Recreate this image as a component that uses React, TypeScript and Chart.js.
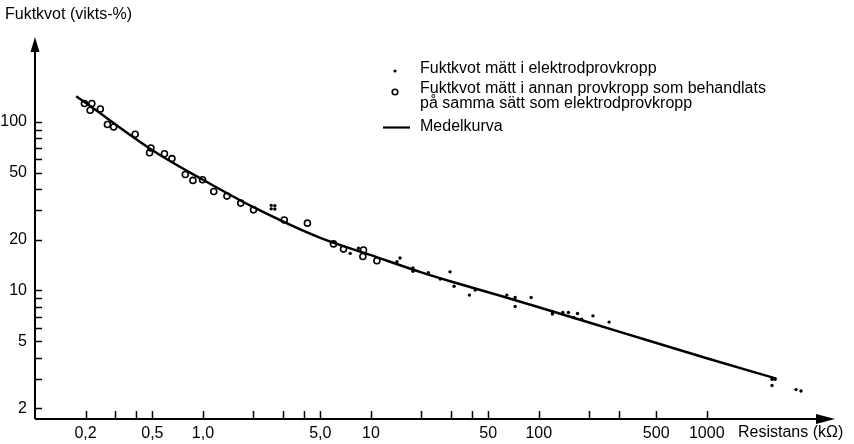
import React, { useEffect, useRef } from "react";
import { Chart, registerables } from "chart.js";

Chart.register(...registerables);

// ---- Data ----
const curveX = [0.176, 0.2, 0.5, 1, 2, 5, 10, 20, 30, 59, 100, 300, 1000, 2600];
const curveY = [142, 130, 68, 45.4, 31.2, 20.5, 16.2, 12.8, 11.3, 9.3, 7.95, 5.7, 3.96, 3.0];

const circleX = [0.197, 0.218, 0.213, 0.245, 0.27, 0.294, 0.395, 0.49, 0.481, 0.59, 0.654, 0.785, 0.872, 0.995, 1.16, 1.39, 1.68, 2.0, 3.05, 4.19, 5.99, 6.87, 9.04, 8.96, 10.86];
const circleY = [128.7, 128.7, 117.4, 119.5, 96.5, 93.4, 84.5, 70.0, 65.7, 64.8, 60.6, 48.8, 45.0, 45.4, 38.7, 36.3, 33.0, 30.1, 26.2, 25.1, 18.9, 17.6, 17.4, 15.9, 15.0];

const dotX = [2.55, 2.55, 2.68, 2.68, 7.53, 8.44, 14.3, 14.9, 17.8, 17.8, 22.0, 25.9, 29.6, 31.3, 38.6, 41.8, 64.5, 72.3, 72.3, 90.0, 120.5, 120.5, 139, 150, 170, 162, 180, 210, 262, 2447, 2550, 2447, 3400, 3640];
const dotY = [32.0, 30.5, 31.8, 30.4, 16.6, 17.8, 14.8, 15.6, 13.6, 13.0, 12.75, 11.7, 12.9, 10.6, 9.39, 10.05, 9.39, 9.08, 8.03, 9.08, 7.47, 7.24, 7.40, 7.40, 7.30, 6.9, 6.76, 7.07, 6.49, 2.97, 2.97, 2.73, 2.58, 2.53];

const xTicks = [0.2, 0.3, 0.4, 0.5, 1, 2, 3, 4, 5, 10, 20, 30, 40, 50, 100, 200, 300, 500, 1000];
const xLabelValues = [0.2, 0.5, 1, 5, 10, 50, 100, 500, 1000];
const xLabelTexts = ["0,2", "0,5", "1,0", "5,0", "10", "50", "100", "500", "1000"];

const yTicks = [2, 3, 4, 5, 6, 7, 8, 9, 10, 20, 30, 40, 50, 60, 70, 80, 90, 100];
const yLabelValues = [2, 5, 10, 20, 50, 100];
const yLabelTexts = ["2", "5", "10", "20", "50", "100"];

const yTitle = "Fuktkvot (vikts-%)";
const xTitle = "Resistans (kΩ)";
const legendDot = "Fuktkvot mätt i elektrodprovkropp";
const legendCircle1 = "Fuktkvot mätt i annan provkropp som behandlats";
const legendCircle2 = "på samma sätt som elektrodprovkropp";
const legendLine = "Medelkurva";

const FONT = "16px 'Liberation Sans', Arial, sans-serif";

const decorPlugin = {
  id: "decor",
  afterDraw(chart: any) {
    const ctx = chart.ctx as CanvasRenderingContext2D;
    const xs = chart.scales.x;
    const ys = chart.scales.y;
    const { left, right, top, bottom } = chart.chartArea;
    ctx.save();
    ctx.strokeStyle = "#000";
    ctx.fillStyle = "#000";
    // axes
    ctx.lineWidth = 2;
    ctx.beginPath();
    ctx.moveTo(left, bottom);
    ctx.lineTo(right - 14, bottom);
    ctx.moveTo(left, bottom);
    ctx.lineTo(left, top + 12);
    ctx.stroke();
    // arrows
    ctx.beginPath();
    ctx.moveTo(right, bottom);
    ctx.lineTo(right - 19, bottom - 5);
    ctx.lineTo(right - 19, bottom + 5);
    ctx.closePath();
    ctx.fill();
    ctx.beginPath();
    ctx.moveTo(left, top);
    ctx.lineTo(left - 4.5, top + 15);
    ctx.lineTo(left + 4.5, top + 15);
    ctx.closePath();
    ctx.fill();
    // ticks
    ctx.lineWidth = 1.5;
    ctx.beginPath();
    xTicks.forEach((v) => {
      const px = Math.round(xs.getPixelForValue(v)) + 0.5;
      ctx.moveTo(px, bottom);
      ctx.lineTo(px, bottom - 8);
    });
    yTicks.forEach((v) => {
      const py = Math.round(ys.getPixelForValue(v)) + 0.5;
      ctx.moveTo(left, py);
      ctx.lineTo(left + 7, py);
    });
    ctx.stroke();
    // labels
    ctx.font = FONT;
    ctx.textBaseline = "middle";
    ctx.textAlign = "center";
    xLabelValues.forEach((v, i) => {
      ctx.fillText(xLabelTexts[i], xs.getPixelForValue(v), 434);
    });
    ctx.textAlign = "right";
    yLabelValues.forEach((v, i) => {
      ctx.fillText(yLabelTexts[i], 27, ys.getPixelForValue(v));
    });
    ctx.textAlign = "left";
    ctx.fillText(xTitle, 738, 433);
    ctx.fillText(yTitle, 5, 15);
    // legend
    ctx.fillText(legendDot, 420, 69);
    ctx.fillText(legendCircle1, 420, 89);
    ctx.fillText(legendCircle2, 420, 103.5);
    ctx.fillText(legendLine, 420, 127);
    ctx.beginPath();
    ctx.arc(395, 71, 1.6, 0, Math.PI * 2);
    ctx.fill();
    ctx.lineWidth = 1.6;
    ctx.beginPath();
    ctx.arc(395, 92, 2.8, 0, Math.PI * 2);
    ctx.stroke();
    ctx.lineWidth = 2.2;
    ctx.beginPath();
    ctx.moveTo(383, 127.5);
    ctx.lineTo(410, 127.5);
    ctx.stroke();
    ctx.restore();
  },
};

export default function App() {
  const ref = useRef<HTMLCanvasElement | null>(null);
  useEffect(() => {
    if (!ref.current) return;
    const chart = new Chart(ref.current, {
      type: "scatter",
      data: {
        datasets: [
          {
            type: "line",
            label: legendLine,
            data: curveX.map((x, i) => ({ x, y: curveY[i] })),
            borderColor: "#000",
            borderWidth: 2.5,
            pointRadius: 0,
            cubicInterpolationMode: "monotone",
            fill: false,
            clip: false,
          } as any,
          {
            label: legendCircle1,
            data: circleX.map((x, i) => ({ x, y: circleY[i] })),
            pointStyle: "circle",
            pointRadius: 3,
            borderWidth: 1.6,
            borderColor: "#000",
            backgroundColor: "rgba(255,255,255,0)",
            clip: false,
          } as any,
          {
            label: legendDot,
            data: dotX.map((x, i) => ({ x, y: dotY[i] })),
            pointStyle: "circle",
            pointRadius: 1.7,
            borderWidth: 0,
            backgroundColor: "#000",
            clip: false,
          } as any,
        ],
      },
      options: {
        responsive: false,
        animation: false,
        events: [],
        layout: { padding: { left: 35, right: 19, top: 37, bottom: 25 } },
        plugins: { legend: { display: false }, tooltip: { enabled: false }, title: { display: false } },
        scales: {
          x: { type: "logarithmic", min: 0.1, max: 5803, display: false },
          y: { type: "logarithmic", min: 1.727, max: 319.3, display: false },
        },
      },
      plugins: [decorPlugin],
    });
    return () => chart.destroy();
  }, []);
  return (
    <div style={{ position: "fixed", left: 0, top: 0, width: 854, height: 444, background: "#fff" }}>
      <canvas ref={ref} width={854} height={444} style={{ display: "block" }} />
    </div>
  );
}
